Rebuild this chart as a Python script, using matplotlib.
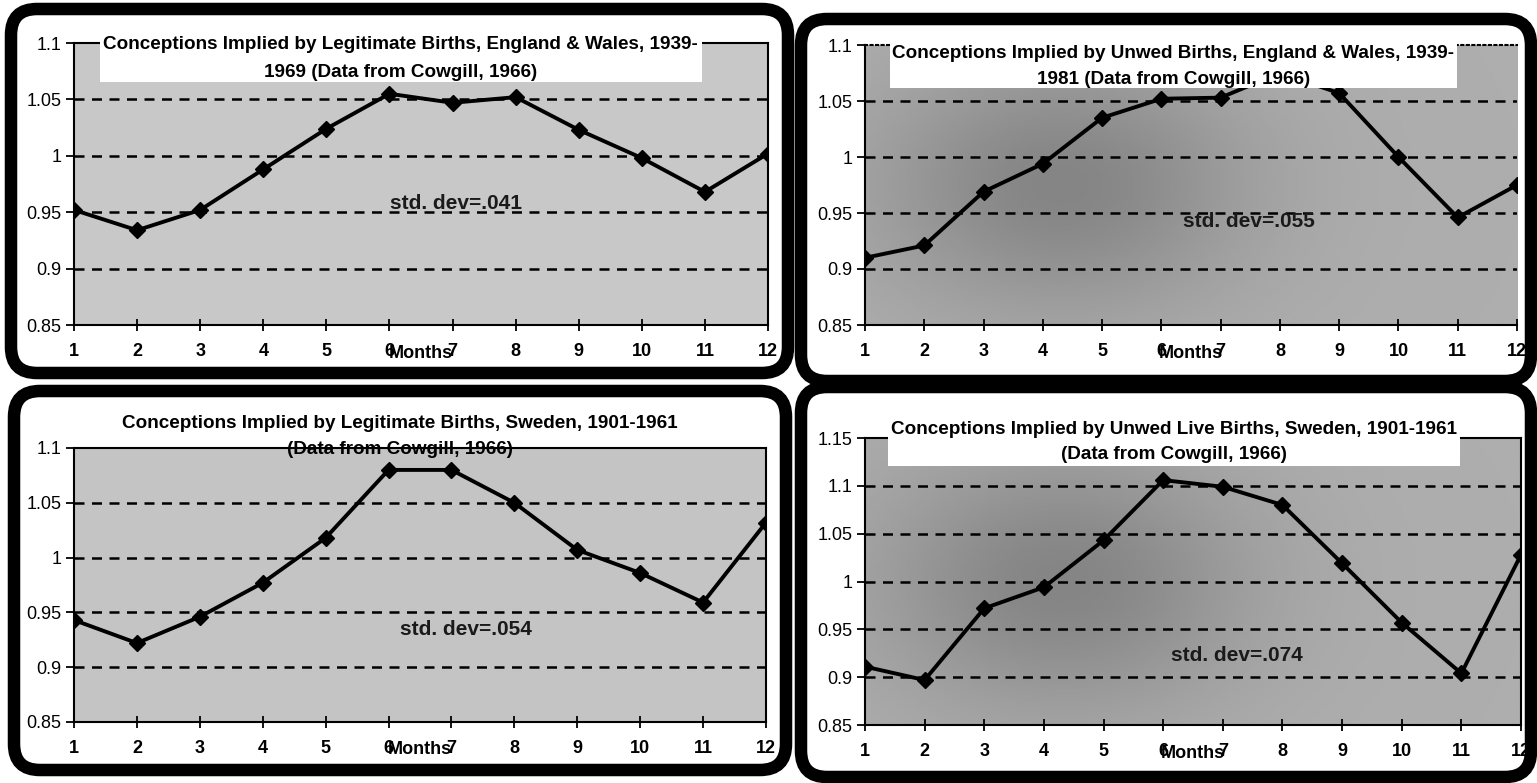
import matplotlib.pyplot as plt
import numpy as np
from matplotlib.patches import FancyBboxPatch, Rectangle
from matplotlib.transforms import offset_copy

# seasonal indices of conceptions
months = list(range(1, 13))
legit_ew = [0.952, 0.934, 0.952, 0.988, 1.024, 1.055, 1.047, 1.052, 1.023, 0.998, 0.968, 1.002]
unwed_ew = [0.910, 0.921, 0.969, 0.994, 1.035, 1.052, 1.053, 1.075, 1.057, 1.000, 0.946, 0.975]
legit_sw = [0.943, 0.922, 0.946, 0.977, 1.018, 1.080, 1.080, 1.050, 1.007, 0.986, 0.959, 1.032]
unwed_sw = [0.911, 0.897, 0.972, 0.994, 1.043, 1.106, 1.099, 1.080, 1.019, 0.957, 0.904, 1.028]

yticks_short = [0.85, 0.9, 0.95, 1, 1.05, 1.1]
yticks_tall = [0.85, 0.9, 0.95, 1, 1.05, 1.1, 1.15]

titles = [
    ('Conceptions Implied by Legitimate Births, England & Wales, 1939-', '1969 (Data from Cowgill, 1966)'),
    ('Conceptions Implied by Unwed Births, England & Wales, 1939-', '1981 (Data from Cowgill, 1966)'),
    ('Conceptions Implied by Legitimate Births, Sweden, 1901-1961', '(Data from Cowgill, 1966)'),
    ('Conceptions Implied by Unwed Live Births, Sweden, 1901-1961', '(Data from Cowgill, 1966)'),
]
std_devs = ['std. dev=.041', 'std. dev=.055', 'std. dev=.054', 'std. dev=.074']

plt.rcParams['font.family'] = ['Liberation Sans Narrow', 'Liberation Sans', 'DejaVu Sans']

W, H = 1537, 783
fig = plt.figure(figsize=(W / 100, H / 100), dpi=100)
fig.patch.set_facecolor('white')

# background layer in pixel units for the rounded frames
bg = fig.add_axes([0, 0, 1, 1])
bg.set_xlim(0, W)
bg.set_ylim(H, 0)
bg.axis('off')
bg.set_zorder(-1)
frames = [(11, 9, 788, 373), (801, 19, 1531, 381), (14, 391, 786, 770), (801, 387, 1531, 777)]
for x0, y0, x1, y1 in frames:
    bg.add_patch(FancyBboxPatch((x0, y0), x1 - x0, y1 - y0,
                                boxstyle='round,pad=0,rounding_size=26',
                                facecolor='white', edgecolor='black', linewidth=9))


def px_axes(l, t, r, b):
    return fig.add_axes([l / W, 1 - b / H, (r - l) / W, (b - t) / H])


panels = [
    dict(rect=(74, 43, 768, 325), series=legit_ew, yticks=yticks_short, face='#c8c8c8',
         box=(0.037, 0.862, 0.905, 1.05), tx=0.471, ty=(0.993, 0.897), sd=(7.05, 0.958)),
    dict(rect=(865, 45, 1517, 325), series=unwed_ew, yticks=yticks_short, face='#a2a2a2',
         box=(0.038, 0.846, 0.908, 1.05), tx=0.473, ty=(0.971, 0.875), sd=(7.48, 0.942)),
    dict(rect=(74, 448, 766, 722), series=legit_sw, yticks=yticks_short, face='#c4c4c4',
         box=None, tx=0.471, ty=(1.091, 0.993), sd=(7.23, 0.934)),
    dict(rect=(865, 438, 1521, 725), series=unwed_sw, yticks=yticks_tall, face='#acacac',
         box=(0.035, 0.902, 0.907, 1.066), tx=0.471, ty=(1.028, 0.941), sd=(7.24, 0.923)),
]

for i, p in enumerate(panels):
    ax = px_axes(*p['rect'])
    yt = p['yticks']
    ax.set_xlim(1, 12)
    ax.set_ylim(yt[0], yt[-1])
    ax.set_facecolor(p['face'])

    # darker blotch in the shaded scans on the right
    if i in (1, 3):
        gx, gy = np.meshgrid(np.linspace(0, 1, 200), np.linspace(0, 1, 100))
        shade = 0.68 - 0.16 * np.exp(-((gx - 0.3) ** 2 / 0.08 + (gy - 0.5) ** 2 / 0.2))
        ax.imshow(shade, extent=(1, 12, yt[0], yt[-1]), aspect='auto', cmap='gray',
                  vmin=0, vmax=1, origin='lower', zorder=0)

    for y in yt[1:-1]:
        ax.axhline(y, color='black', lw=1.8, ls=(0, (4, 3)), zorder=1)

    ax.plot(months, p['series'], color='black', lw=2.8, marker='D', markersize=8, zorder=2)

    ax.set_xticks(months)
    ax.set_xticklabels([str(m) for m in months], fontweight='bold', fontsize=13)
    ax.set_yticks(yt)
    ax.set_yticklabels(['%g' % v for v in yt], fontsize=13)
    ax.tick_params(axis='x', direction='inout', length=8, width=1.3, pad=9)
    ax.tick_params(axis='y', direction='out', length=6, width=1.3, pad=3)
    for s in ax.spines.values():
        s.set_linewidth(1.5)
    if i == 1:
        ax.spines['top'].set_linestyle(':')
        ax.spines['right'].set_visible(False)

    if p['box'] is not None:
        bx0, by0, bx1, by1 = p['box']
        ax.add_patch(Rectangle((bx0, by0), bx1 - bx0, by1 - by0, transform=ax.transAxes,
                               facecolor='white', edgecolor='none', zorder=3, clip_on=False))
    for line, ty in zip(titles[i], p['ty']):
        ax.text(p['tx'], ty, line, transform=ax.transAxes, ha='center', va='center',
                fontsize=13.6, fontweight='bold', zorder=4, clip_on=False)

    ax.text(p['sd'][0], p['sd'][1], std_devs[i], ha='center', va='center',
            fontsize=15, fontweight='bold', color='#1a1a1a', zorder=4)

    ax.text(0.5, 0, 'Months', transform=offset_copy(ax.transAxes, fig=fig, y=-28, units='dots'),
            ha='center', va='center', fontsize=13, fontweight='bold')

fig.savefig('out.png', dpi=100)
